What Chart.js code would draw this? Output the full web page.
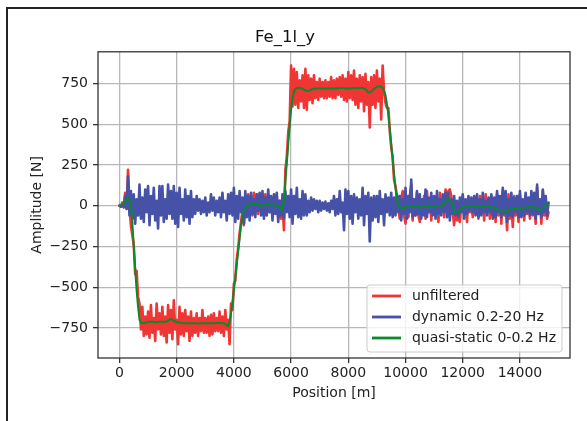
<!DOCTYPE html>
<html>
<head>
<meta charset="utf-8">
<script src="https://cdn.jsdelivr.net/npm/chart.js@4.4.1/dist/chart.umd.min.js"></script>
<style>
body { margin:0; background:#fff; }
#marco { position:absolute; left:6px; top:7px; right:0; bottom:0; border-left:2px solid #222; border-top:2px solid #222; }
#grafico { position:absolute; left:0; top:0; }
</style>
</head>
<body>
<div id="marco"></div>
<canvas id="grafico" width="587" height="421"></canvas>
<script>

// ==============================
// DATOS
// ==============================

const posiciones = [
0,50,100,150,200,250,300,350,400,450,
500,550,600,650,700,750,800,850,900,950,
1000,1050,1100,1150,1200,1250,1300,1350,1400,1450,
1500,1550,1600,1650,1700,1750,1800,1850,1900,1950,
2000,2050,2100,2150,2200,2250,2300,2350,2400,2450,
2500,2550,2600,2650,2700,2750,2800,2850,2900,2950,
3000,3050,3100,3150,3200,3250,3300,3350,3400,3450,
3500,3550,3600,3650,3700,3750,3800,3850,3900,3950,
4000,4050,4100,4150,4200,4250,4300,4350,4400,4450,
4500,4550,4600,4650,4700,4750,4800,4850,4900,4950,
5000,5050,5100,5150,5200,5250,5300,5350,5400,5450,
5500,5550,5600,5650,5700,5750,5800,5850,5900,5950,
6000,6050,6100,6150,6200,6250,6300,6350,6400,6450,
6500,6550,6600,6650,6700,6750,6800,6850,6900,6950,
7000,7050,7100,7150,7200,7250,7300,7350,7400,7450,
7500,7550,7600,7650,7700,7750,7800,7850,7900,7950,
8000,8050,8100,8150,8200,8250,8300,8350,8400,8450,
8500,8550,8600,8650,8700,8750,8800,8850,8900,8950,
9000,9050,9100,9150,9200,9250,9300,9350,9400,9450,
9500,9550,9600,9650,9700,9750,9800,9850,9900,9950,
10000,10050,10100,10150,10200,10250,10300,10350,10400,10450,
10500,10550,10600,10650,10700,10750,10800,10850,10900,10950,
11000,11050,11100,11150,11200,11250,11300,11350,11400,11450,
11500,11550,11600,11650,11700,11750,11800,11850,11900,11950,
12000,12050,12100,12150,12200,12250,12300,12350,12400,12450,
12500,12550,12600,12650,12700,12750,12800,12850,12900,12950,
13000,13050,13100,13150,13200,13250,13300,13350,13400,13450,
13500,13550,13600,13650,13700,13750,13800,13850,13900,13950,
14000,14050,14100,14150,14200,14250,14300,14350,14400,14450,
14500,14550,14600,14650,14700,14750,14800,14850,14900,14950,
15000
];

const unfiltered = [
0,-5,20,-10,80,-20,220,0,-120,-180,
-240,-420,-400,-560,-600,-760,-620,-800,-680,-790,
-650,-810,-610,-780,-690,-830,-600,-760,-660,-790,
-620,-800,-680,-840,-610,-780,-640,-820,-580,-760,
-700,-850,-620,-790,-660,-800,-640,-770,-680,-830,
-650,-800,-690,-780,-660,-800,-690,-770,-640,-780,
-690,-780,-680,-800,-670,-790,-660,-770,-690,-770,
-650,-780,-680,-800,-640,-760,-700,-850,-600,-640,
-480,-460,-330,-260,-170,-100,-30,-120,0,-60,
70,-40,60,-60,80,-20,70,-50,60,-30,
40,-60,70,-40,50,-40,50,-70,40,-30,
60,-70,30,-80,20,-150,220,300,450,520,
860,610,840,620,820,600,770,640,800,600,
840,590,800,650,780,630,800,660,760,650,
780,670,760,660,770,660,760,670,790,660,
770,660,780,680,790,670,800,650,780,640,
820,660,800,650,830,620,780,600,800,640,
790,580,810,620,760,480,790,620,800,600,
830,640,780,530,860,700,630,600,600,460,
360,300,160,120,60,-20,-80,40,90,-60,
-110,50,-70,60,130,-90,40,-60,80,-60,
-100,40,-50,60,-80,90,-40,40,-90,30,
50,-60,30,-100,80,-30,30,-70,100,20,
90,100,60,-40,-120,-20,-90,-80,-100,10,
60,-50,30,-100,50,-40,10,-70,50,-50,
20,-80,60,-50,40,-90,70,-40,30,-80,
60,-60,40,-100,70,-60,40,-110,90,-60,
20,-150,70,-80,10,-130,60,-60,30,-100,
70,-60,20,-90,60,-50,30,-80,70,-60,
40,-110,110,-50,20,-110,90,-60,10,-80,
-40
];

const dynamic = [
0,-5,10,-10,60,-20,180,-60,90,-80,
70,-110,40,-60,130,-80,50,-100,100,-40,
120,-120,60,-50,110,-90,30,-140,120,-60,
120,-100,40,-80,130,-50,90,-80,120,-110,
80,-130,110,-50,40,-90,100,-70,60,-110,
90,-70,40,-50,60,-30,40,-50,30,-40,
50,-60,20,-40,70,-30,50,-60,30,-40,
50,-70,80,-40,30,-90,70,-50,80,-60,
110,-100,60,-80,90,-40,50,-110,90,-70,
60,-90,80,-50,40,-70,70,-30,80,-60,
90,-80,50,-60,100,-40,60,-90,70,-50,
80,-100,30,-60,70,-80,90,-40,60,-70,
100,-110,60,-50,110,-70,40,-80,90,-60,
70,-60,30,-40,50,-30,40,-20,30,-40,
30,-30,20,-20,25,-30,15,-40,30,-20,
60,-60,40,-50,90,-40,20,-150,100,-50,
90,-80,60,-110,70,-40,50,-80,40,-60,
110,-120,60,-50,80,-220,50,-90,60,-70,
60,-100,90,-50,40,-120,70,-40,50,-60,
80,-70,50,-60,70,-40,60,-90,40,-50,
110,-80,60,-40,160,-70,40,-60,90,-50,
70,-80,40,-60,100,-70,50,-40,80,-60,
60,-80,90,-50,40,-60,70,-40,80,-70,
80,-90,40,-50,60,-60,30,-70,50,-40,
70,-80,40,-50,60,-30,50,-40,60,-60,
70,-70,40,-60,80,-40,30,-60,50,-40,
70,-80,50,-70,90,-40,60,-70,110,-50,
90,-100,40,-60,80,-70,50,-40,60,-70,
90,-70,40,-60,80,-40,50,-60,90,-50,
80,-80,130,-50,40,-70,100,-40,60,-60,
20
];

const quasiStatic = [
0,2,5,15,30,42,45,35,10,-100,
-250,-390,-520,-620,-700,-718,-722,-720,-718,-716,
-714,-713,-712,-712,-713,-714,-715,-714,-713,-712,
-712,-713,-714,-711,-706,-700,-696,-700,-706,-710,
-714,-716,-718,-719,-720,-721,-721,-722,-722,-722,
-722,-721,-721,-722,-722,-723,-723,-722,-722,-721,
-721,-722,-722,-722,-722,-721,-721,-720,-720,-720,
-720,-720,-721,-722,-725,-732,-742,-710,-660,-600,
-520,-440,-360,-280,-200,-120,-60,-25,-10,-3,
0,4,8,12,14,12,10,7,5,3,
2,3,5,5,4,3,2,3,4,2,
0,-4,-8,-15,-25,40,150,260,380,490,
590,660,700,715,722,724,724,721,718,712,
708,705,705,708,712,716,718,719,720,721,
721,720,720,720,720,720,721,721,720,720,
720,720,721,721,722,722,722,721,721,720,
720,720,721,722,722,723,723,723,723,722,
722,720,715,705,695,695,700,708,718,725,
730,732,732,730,725,705,680,625,560,470,
380,285,190,110,40,5,-10,-12,-12,-11,
-10,-9,-8,-6,-5,-5,-5,-4,-3,-2,
-2,-2,-3,-3,-4,-4,-5,-5,-4,-3,
-2,-1,0,-1,-2,0,5,14,25,38,
45,35,20,-5,-30,-40,-45,-36,-25,-16,
-10,-7,-5,-2,0,-1,-2,-2,-3,-3,
-4,-4,-3,-4,-5,-5,-6,-7,-8,-9,
-10,-11,-12,-15,-18,-22,-25,-30,-35,-37,
-38,-34,-28,-24,-20,-19,-18,-16,-15,-15,
-14,-14,-13,-12,-12,-11,-10,-9,-8,-9,
-10,-12,-15,-22,-28,-22,-15,-8,0,8,
15
];

const etiquetas = ["unfiltered", "dynamic 0.2-20 Hz", "quasi-static 0-0.2 Hz"];
const colores = ["#f03535", "#4552a8", "#0a8a2a"];

const ticksX = [0,2000,4000,6000,8000,10000,12000,14000];
const ticksY = [-750,-500,-250,0,250,500,750];

// ==============================
// PUNTOS
// ==============================

function puntos(valores){
return posiciones.map((x,i) => ({x:x, y:valores[i]}));
}

// ==============================
// PLUGIN MARCO Y LEYENDA
// ==============================

const marcoPlugin = {

id:"marco",

afterDatasetsDraw(chart){

const ctx = chart.ctx;
const a = chart.chartArea;

ctx.save();

// borde del grafico
ctx.strokeStyle = "#333";
ctx.lineWidth = 1.3;
ctx.strokeRect(a.left, a.top, a.right - a.left, a.bottom - a.top);

// leyenda
ctx.font = '14px "DejaVu Sans"';
const anchoTexto = Math.max(...etiquetas.map(t => ctx.measureText(t).width));
const w = 5 + 29 + 11 + anchoTexto + 6;
const h = 67;
const x = a.right - 8 - w;
const y = a.bottom - 6 - h;

ctx.beginPath();
if (ctx.roundRect) ctx.roundRect(x, y, w, h, 3); else ctx.rect(x, y, w, h);
ctx.fillStyle = "rgba(255,255,255,0.8)";
ctx.fill();
ctx.strokeStyle = "#cccccc";
ctx.lineWidth = 1;
ctx.stroke();

etiquetas.forEach((t,i) => {
const yy = y + 11 + i * 21;
ctx.strokeStyle = colores[i];
ctx.lineWidth = 2.8;
ctx.beginPath();
ctx.moveTo(x + 5, yy);
ctx.lineTo(x + 34, yy);
ctx.stroke();
ctx.fillStyle = "#222";
ctx.textBaseline = "middle";
ctx.textAlign = "left";
ctx.fillText(t, x + 45, yy);
});

ctx.restore();

}

};

// ==============================
// GRAFICO
// ==============================

Chart.defaults.font.family = '"DejaVu Sans", sans-serif';
Chart.defaults.color = "#222";

const ctxGrafico = document.getElementById("grafico").getContext("2d");

let grafico = new Chart(ctxGrafico, {

type:"line",

data:{
datasets:[
{ label:etiquetas[0], data:puntos(unfiltered), borderColor:colores[0], borderWidth:2.6, order:3 },
{ label:etiquetas[1], data:puntos(dynamic), borderColor:colores[1], borderWidth:2.6, order:2 },
{ label:etiquetas[2], data:puntos(quasiStatic), borderColor:colores[2], borderWidth:2, order:1 }
]
},

options:{
responsive:false,
animation:false,
devicePixelRatio:1,
layout:{ padding:{ left:0, right:17, top:0, bottom:0 } },

elements:{
line:{ tension:0, fill:false, borderJoinStyle:"round", borderCapStyle:"round" },
point:{ radius:0 }
},

plugins:{
legend:{ display:false },
tooltip:{ enabled:false },
title:{
display:true,
text:"Fe_1l_y",
color:"#111",
font:{ size:16.5, weight:"normal" },
padding:{ top:28, bottom:4 }
}
},

scales:{

x:{
type:"linear",
min:-750,
max:15750,
afterBuildTicks: axis => { axis.ticks = ticksX.map(v => ({value:v})); },
afterFit: scale => { scale.height = 63; },
ticks:{ font:{ size:14 }, padding:2, maxRotation:0, callback: v => String(v) },
grid:{ color:"#b8b8b8", lineWidth:1.3, tickColor:"#333", tickLength:5 },
border:{ display:false },
title:{ display:true, text:"Position [m]", font:{ size:14 }, padding:{ top:0, bottom:19.6 } }
},

y:{
type:"linear",
min:-935,
max:945,
afterBuildTicks: axis => { axis.ticks = ticksY.map(v => ({value:v})); },
afterFit: scale => { scale.width = 98; },
ticks:{ font:{ size:14 }, padding:5, callback: v => v < 0 ? "\u2212" + Math.abs(v) : String(v) },
grid:{ color:"#b8b8b8", lineWidth:1.3, tickColor:"#333", tickLength:5 },
border:{ display:false },
title:{ display:true, text:"Amplitude [N]", font:{ size:14 }, padding:{ top:28.6, bottom:0 } }
}

}

},

plugins:[marcoPlugin]

});

</script>
</body>
</html>
